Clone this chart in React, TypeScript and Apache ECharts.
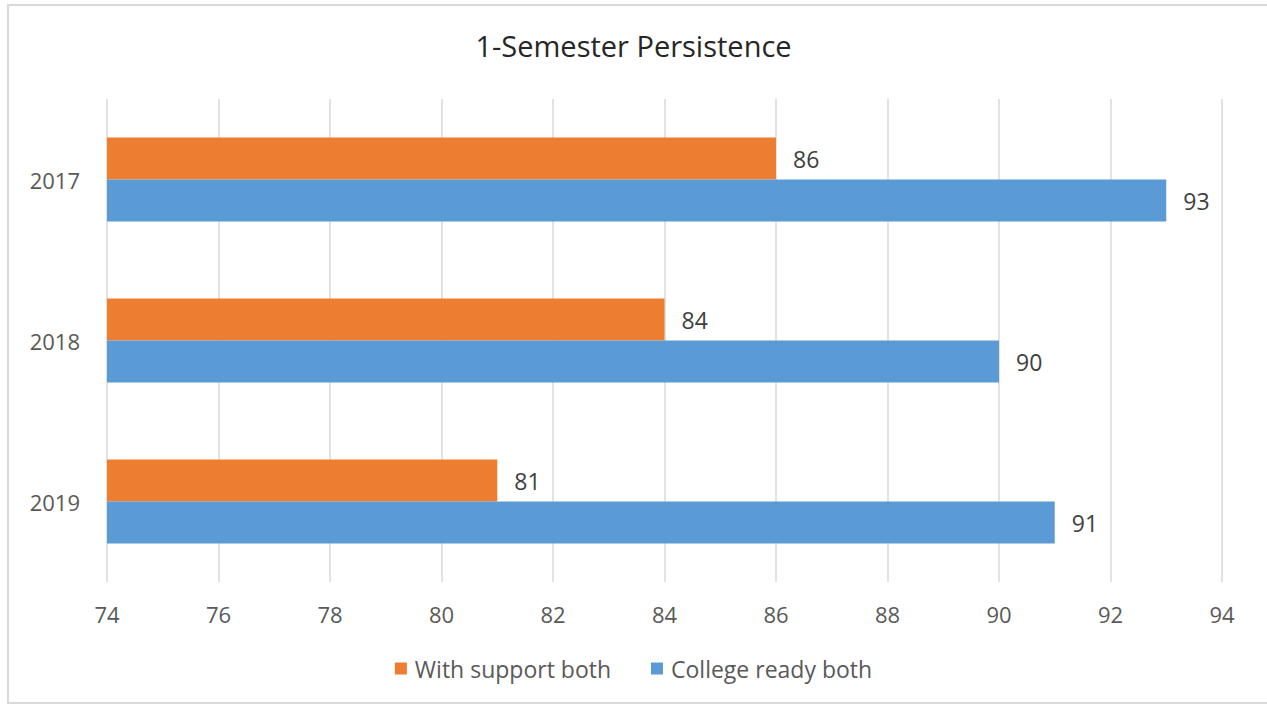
import { useEffect, useRef } from "react";
import * as echarts from "echarts";

// Persistence after one semester, by cohort year (percent)
const years = ["2017", "2018", "2019"];
const withSupport = [86, 84, 81];
const collegeReady = [93, 90, 91];
const seriesNames = ["With support both", "College ready both"];
const chartTitle = "1-Semester Persistence";
const xMin = 74;
const xMax = 94;
const xStep = 2;

const FONT = "'Open Sans', 'Noto Sans', sans-serif";

export default function App() {
  const ref = useRef<HTMLDivElement>(null);

  useEffect(() => {
    if (!ref.current) return;
    const chart = echarts.init(ref.current, undefined, { renderer: "svg" });
    chart.setOption({
      animation: false,
      backgroundColor: "#ffffff",
      textStyle: { fontFamily: FONT },
      title: {
        text: chartTitle,
        left: "center",
        top: 26,
        textStyle: { fontFamily: FONT, fontSize: 29, fontWeight: "normal", color: "#262626" },
      },
      graphic: [
        {
          type: "rect",
          shape: { x: 8, y: 5, width: 1280, height: 698 },
          style: { fill: "none", stroke: "#d9d9d9", lineWidth: 2 },
          silent: true,
        },
      ],
      legend: {
        data: seriesNames,
        top: 652,
        left: "center",
        icon: "rect",
        itemWidth: 12,
        itemHeight: 12,
        itemGap: 40,
        textStyle: { fontFamily: FONT, fontSize: 23, color: "#595959", padding: [0, 0, 0, 3] },
      },
      grid: { left: 107, right: 45, top: 99, bottom: 123 },
      xAxis: {
        type: "value",
        min: xMin,
        max: xMax,
        interval: xStep,
        axisLine: { show: false },
        axisTick: { show: false },
        splitLine: { show: true, lineStyle: { color: "#d9d9d9", width: 1.5 } },
        axisLabel: { fontFamily: FONT, fontSize: 22, color: "#595959", margin: 21 },
      },
      yAxis: {
        type: "category",
        data: years,
        inverse: true,
        axisLine: { show: false },
        axisTick: { show: false },
        axisLabel: { fontFamily: FONT, fontSize: 22, color: "#595959", margin: 27 },
      },
      series: [
        {
          name: seriesNames[0],
          type: "bar",
          data: withSupport,
          barWidth: 42,
          barGap: "0%",
          itemStyle: { color: "#ED7D31" },
          label: {
            show: true,
            position: "right",
            distance: 17,
            fontFamily: FONT,
            fontSize: 23,
            color: "#404040",
          },
        },
        {
          name: seriesNames[1],
          type: "bar",
          data: collegeReady,
          barWidth: 42,
          barGap: "0%",
          itemStyle: { color: "#5B9BD5" },
          label: {
            show: true,
            position: "right",
            distance: 17,
            fontFamily: FONT,
            fontSize: 23,
            color: "#404040",
          },
        },
      ],
    });
    return () => chart.dispose();
  }, []);

  return (
    <div
      ref={ref}
      style={{ position: "absolute", left: 0, top: 0, width: 1267, height: 705, background: "#fff" }}
    />
  );
}
